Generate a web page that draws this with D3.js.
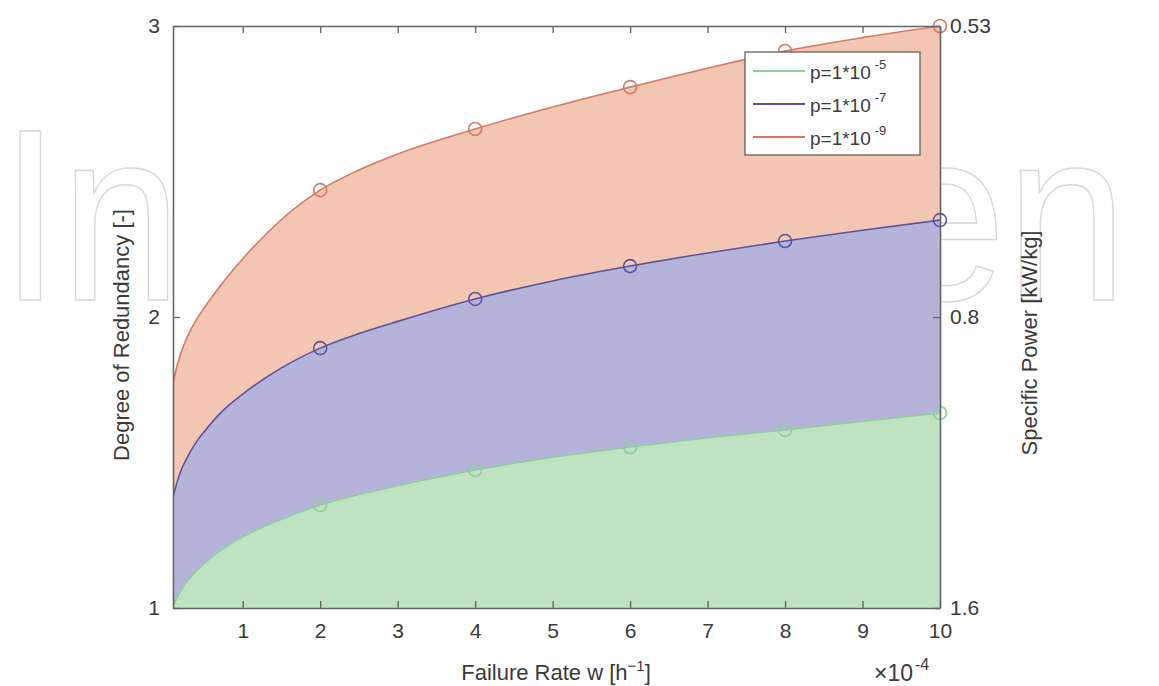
<!DOCTYPE html>
<html lang="en">
<head>
  <meta charset="UTF-8">
  <title>Degree of Redundancy</title>
  <style>
    body { margin: 0; background: #fff; }
    text { font-family: "Liberation Sans", Arial, sans-serif; }
  </style>
</head>
<body>
  <script src="https://cdn.jsdelivr.net/npm/d3@7/dist/d3.min.js"></script>
  <script>
    var width = 1159;
    var height = 686;

    // failure rate (x 10^-4) sampled along the curves
    var rates = [0.1, 0.15, 0.2, 0.25, 0.3, 0.4, 0.5, 0.75, 1, 1.5, 2, 2.5, 3, 4, 5, 6, 7, 8, 9, 10];
    var p5 = [1.00, 1.035, 1.06, 1.08, 1.097, 1.127, 1.152, 1.205, 1.245, 1.305, 1.354, 1.39, 1.42, 1.474, 1.518, 1.553, 1.585, 1.612, 1.642, 1.67];
    var p7 = [1.38, 1.43, 1.47, 1.50, 1.525, 1.57, 1.605, 1.68, 1.735, 1.825, 1.893, 1.943, 1.985, 2.062, 2.124, 2.175, 2.22, 2.261, 2.298, 2.333];
    var p9 = [1.77, 1.83, 1.875, 1.91, 1.94, 1.99, 2.03, 2.12, 2.20, 2.335, 2.436, 2.505, 2.56, 2.646, 2.722, 2.79, 2.855, 2.914, 2.96, 3.0];
    var markerRates = [2, 4, 6, 8, 10];

    var xTicks = [1, 2, 3, 4, 5, 6, 7, 8, 9, 10];
    var yTicks = [1, 2, 3];
    var rightLabels = ["1.6", "0.8", "0.53"];   // specific power for each redundancy tick

    var series = [
      { exp: "-5", values: p5, fill: "#bfe3c2", line: "#8fcd99" },
      { exp: "-7", values: p7, fill: "#b6b3da", line: "#5a549f" },
      { exp: "-9", values: p9, fill: "#f3c5b3", line: "#d47a62" }
    ];

    var margin = { left: 173, right: 219, top: 26, bottom: 78 };

    var x = d3.scaleLinear().domain([0.1, 10]).range([margin.left, width - margin.right]);
    var y = d3.scaleLinear().domain([1, 3]).range([height - margin.bottom, margin.top]);

    var svg = d3.select("body").append("svg")
      .attr("width", width)
      .attr("height", height);

    // faint watermark behind everything
    svg.append("text")
      .attr("transform", "translate(0,300) scale(0.89,1)")
      .style("font-size", "245px")
      .style("fill", "none")
      .style("stroke", "#d8d8d8")
      .style("stroke-width", 1.5)
      .text("IntechOpen");

    // white plot background
    svg.append("rect")
      .attr("x", x.range()[0])
      .attr("y", margin.top)
      .attr("width", x.range()[1] - x.range()[0])
      .attr("height", y.range()[0] - margin.top)
      .style("fill", "#fff");

    svg.append("clipPath").attr("id", "plot")
      .append("rect")
      .attr("x", x.range()[0])
      .attr("y", margin.top)
      .attr("width", x.range()[1] - x.range()[0])
      .attr("height", y.range()[0] - margin.top);

    var g = svg.append("g").attr("clip-path", "url(#plot)");

    var area = d3.area()
      .x(function (d, i) { return x(rates[i]); })
      .y0(y(1))
      .y1(function (d) { return y(d); })
      .curve(d3.curveMonotoneX);

    var line = d3.line()
      .x(function (d, i) { return x(rates[i]); })
      .y(function (d) { return y(d); })
      .curve(d3.curveMonotoneX);

    // draw top band first so lower ones sit on top
    var drawOrder = series.slice().reverse();

    g.selectAll("path.area")
      .data(drawOrder)
      .enter()
      .append("path")
      .attr("class", "area")
      .attr("d", function (s) { return area(s.values); })
      .style("fill", function (s) { return s.fill; });

    g.selectAll("path.line")
      .data(drawOrder)
      .enter()
      .append("path")
      .attr("class", "line")
      .attr("d", function (s) { return line(s.values); })
      .style("fill", "none")
      .style("stroke", function (s) { return s.line; })
      .style("stroke-width", 1.6);

    // circle markers at the computed points
    drawOrder.forEach(function (s) {
      svg.selectAll(null)
        .data(markerRates)
        .enter()
        .append("circle")
        .attr("cx", function (r) { return x(r); })
        .attr("cy", function (r) { return y(s.values[rates.indexOf(r)]); })
        .attr("r", 6.5)
        .style("fill", "none")
        .style("stroke", s.line)
        .style("stroke-width", 1.6);
    });

    // axes, MATLAB style with inward ticks
    var axisColor = "#666";
    var labelColor = "#3a3a3a";

    function styleAxis(sel) {
      sel.select(".domain").style("stroke", axisColor).style("stroke-width", 1.6);
      sel.selectAll(".tick line").style("stroke", axisColor).style("stroke-width", 1.4);
      sel.selectAll(".tick text").style("fill", labelColor).style("font-size", "21px")
        .style("font-family", "'Liberation Sans', Arial, sans-serif");
    }

    svg.append("g")
      .attr("transform", "translate(0," + y(1) + ")")
      .call(d3.axisBottom(x).tickValues(xTicks).tickSize(-7).tickSizeOuter(0).tickPadding(15))
      .call(styleAxis);

    svg.append("g")
      .attr("transform", "translate(0," + y(3) + ")")
      .call(d3.axisTop(x).tickValues(xTicks).tickSize(-7).tickSizeOuter(0).tickFormat(""))
      .call(styleAxis);

    svg.append("g")
      .attr("transform", "translate(" + x(0.1) + ",0)")
      .call(d3.axisLeft(y).tickValues(yTicks).tickSize(-7).tickSizeOuter(0).tickPadding(13).tickFormat(d3.format("d")))
      .call(styleAxis);

    svg.append("g")
      .attr("transform", "translate(" + x(10) + ",0)")
      .call(d3.axisRight(y).tickValues(yTicks).tickSize(-7).tickSizeOuter(0).tickPadding(10)
        .tickFormat(function (d, i) { return rightLabels[i]; }))
      .call(styleAxis);

    // axis titles
    var xLabel = svg.append("text")
      .attr("x", 556)
      .attr("y", 680)
      .attr("text-anchor", "middle")
      .style("font-size", "22px")
      .style("fill", labelColor);
    xLabel.append("tspan").text("Failure Rate w [h");
    xLabel.append("tspan").attr("dy", -9).style("font-size", "15px").text("−1");
    xLabel.append("tspan").attr("dy", 9).text("]");

    var expLabel = svg.append("text")
      .attr("x", 874)
      .attr("y", 681)
      .style("font-size", "23px")
      .style("fill", labelColor);
    expLabel.append("tspan").text("×10");
    expLabel.append("tspan").attr("dy", -11).attr("dx", 2).style("font-size", "16px").text("-4");

    svg.append("text")
      .attr("transform", "translate(129,335) rotate(-90)")
      .attr("text-anchor", "middle")
      .style("font-size", "22px")
      .style("fill", labelColor)
      .text("Degree of Redundancy [-]");

    svg.append("text")
      .attr("transform", "translate(1037,343) rotate(-90)")
      .attr("text-anchor", "middle")
      .style("font-size", "22px")
      .style("fill", labelColor)
      .text("Specific Power [kW/kg]");

    // legend
    var legend = svg.append("g").attr("transform", "translate(745,52)");
    legend.append("rect")
      .attr("width", 175)
      .attr("height", 103)
      .style("fill", "#fff")
      .style("stroke", "#555")
      .style("stroke-width", 1.2);

    var rows = legend.selectAll("g.row")
      .data(series)
      .enter()
      .append("g")
      .attr("class", "row")
      .attr("transform", function (d, i) { return "translate(0," + (19 + i * 33) + ")"; });

    rows.append("line")
      .attr("x1", 8).attr("x2", 60)
      .style("stroke", function (d) { return d.line; })
      .style("stroke-width", 2);

    var lt = rows.append("text")
      .attr("x", 65)
      .attr("y", 8)
      .style("font-size", "19px")
      .style("fill", labelColor);
    lt.append("tspan").text("p=1*10");
    lt.append("tspan").attr("dy", -10).attr("dx", 4).style("font-size", "13px").text(function (d) { return d.exp; });
  </script>
</body>
</html>
